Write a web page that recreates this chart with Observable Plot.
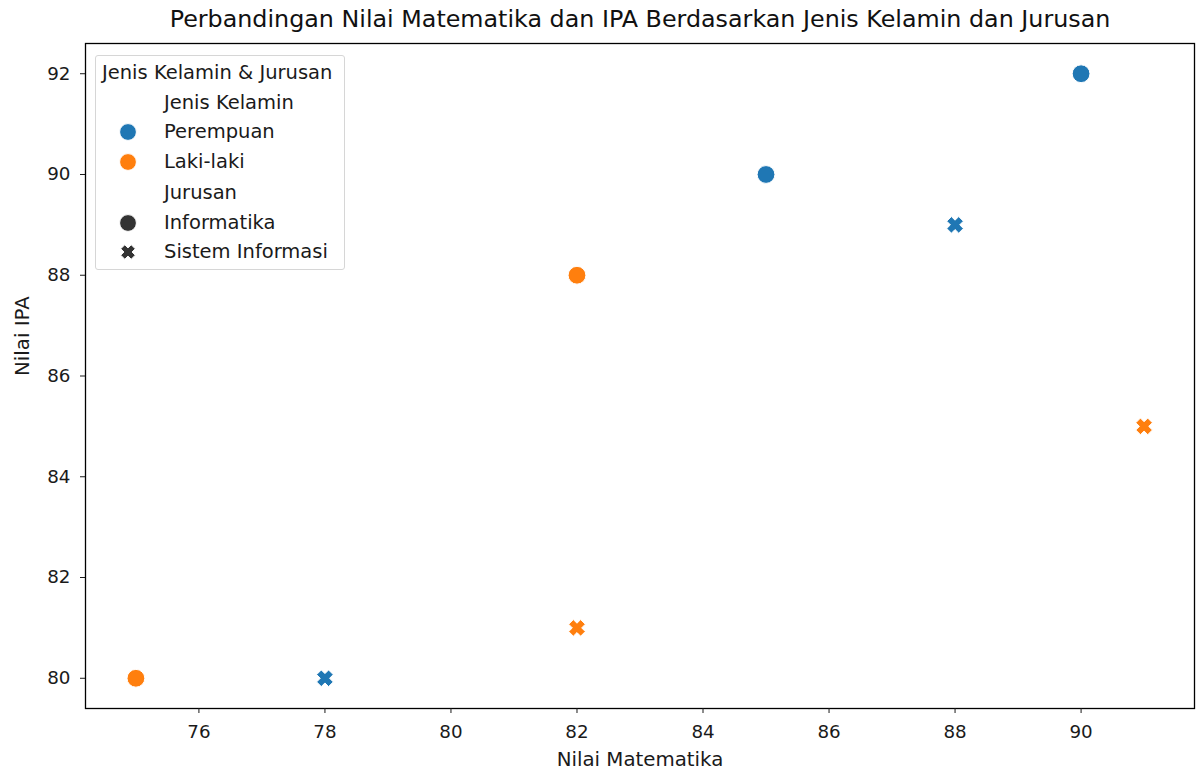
<!DOCTYPE html>
<html>
<head>
<meta charset="utf-8">
<script src="https://cdn.jsdelivr.net/npm/d3@7"></script>
<script src="https://cdn.jsdelivr.net/npm/@observablehq/plot@0.6"></script>
<style>
  body { margin: 0; background: #fff; }
  #wrap { position: relative; width: 1197px; height: 774px; font-family: "DejaVu Sans", sans-serif; }
  #legend { position: absolute; left: 95px; top: 55px; width: 250px; height: 215px; box-sizing: border-box;
    border: 1px solid #d6d6d6; border-radius: 3px; background: rgba(255,255,255,0.8); color: #1a1a1a; font-size: 19.5px; }
  #legend .row { position: absolute; left: 0; height: 24px; line-height: 24px; white-space: nowrap; }
</style>
</head>
<body>
<div id="wrap"></div>
<script>
const title = "Perbandingan Nilai Matematika dan IPA Berdasarkan Jenis Kelamin dan Jurusan";
const xLabel = "Nilai Matematika";
const yLabel = "Nilai IPA";
const nilaiMatematika = [85, 90, 88, 78, 82, 75, 82, 91];
const nilaiIPA =        [90, 92, 89, 80, 88, 80, 81, 85];
const jenisKelamin = ["Perempuan","Perempuan","Perempuan","Perempuan","Laki-laki","Laki-laki","Laki-laki","Laki-laki"];
const jurusan = ["Informatika","Informatika","Sistem Informasi","Sistem Informasi","Informatika","Informatika","Sistem Informasi","Sistem Informasi"];
const genderCategories = ["Perempuan", "Laki-laki"];
const genderColors = ["#1f77b4", "#ff7f0e"];
const majorCategories = ["Informatika", "Sistem Informasi"];
const xTicks = [76, 78, 80, 82, 84, 86, 88, 90];
const yTicks = [80, 82, 84, 86, 88, 90, 92];

const data = nilaiMatematika.map((x, i) => ({x, y: nilaiIPA[i], g: jenisKelamin[i], j: jurusan[i]}));

// filled "X" marker like matplotlib's 'X'
const filledX = {
  draw(context, size) {
    const r = Math.sqrt(size / Math.PI);
    const L = 0.95 * r, t = 0.37 * r;
    const pts = [[t,L],[t,t],[L,t],[L,-t],[t,-t],[t,-L],[-t,-L],[-t,-t],[-L,-t],[-L,t],[-t,t],[-t,L]];
    const c = Math.SQRT1_2;
    pts.forEach(([px, py], k) => {
      const rx = (px - py) * c, ry = (px + py) * c;
      if (k === 0) context.moveTo(rx, ry); else context.lineTo(rx, ry);
    });
    context.closePath();
  }
};

const chart = Plot.plot({
  width: 1197,
  height: 774,
  marginTop: 43,
  marginLeft: 85,
  marginRight: 3,
  marginBottom: 66,
  style: {fontFamily: "DejaVu Sans, sans-serif", fontSize: "18px", color: "#1a1a1a", background: "white"},
  x: {domain: [74.2, 91.8], ticks: xTicks, tickFormat: d => String(d)},
  y: {domain: [79.4, 92.6], ticks: yTicks, tickFormat: d => String(d)},
  color: {domain: genderCategories, range: genderColors},
  symbol: {domain: majorCategories, range: ["circle", filledX]},
  marks: [
    Plot.frame({stroke: "#000", strokeWidth: 1.3}),
    Plot.axisX({ticks: xTicks, tickSize: 5, tickPadding: 11, label: null, fontSize: 18.3}),
    Plot.axisY({ticks: yTicks, tickSize: 5, tickPadding: 10, label: null, fontSize: 18.3}),
    Plot.dot(data, {x: "x", y: "y", fill: "g", symbol: "j", r: 8.9, stroke: "white", strokeWidth: 1}),
    Plot.text([title], {frameAnchor: "top", dy: -33, fontSize: 23.8, fill: "#111"}),
    Plot.text([xLabel], {frameAnchor: "bottom", dy: 57, fontSize: 19.8, fill: "#1a1a1a"}),
    Plot.text([yLabel], {frameAnchor: "left", dx: -63, rotate: -90, fontSize: 19.8, fill: "#1a1a1a"})
  ]
});

const wrap = document.getElementById("wrap");
wrap.appendChild(chart);

// legend
const legend = document.createElement("div");
legend.id = "legend";
const rows = [
  {text: "Jenis Kelamin & Jurusan", top: 5, left: 6},
  {text: "Jenis Kelamin", top: 35, left: 68},
  ...genderCategories.map((g, i) => ({text: g, top: 64 + i * 30, left: 68, marker: "circle", color: genderColors[i]})),
  {text: "Jurusan", top: 125, left: 68},
  ...majorCategories.map((m, i) => ({text: m, top: 155 + i * 29, left: 68, marker: i === 0 ? "circle" : "x", color: "#333333"}))
];
for (const r of rows) {
  const d = document.createElement("div");
  d.className = "row";
  d.style.top = r.top + "px";
  d.style.left = r.left + "px";
  d.textContent = r.text;
  legend.appendChild(d);
  if (r.marker) {
    const ns = "http://www.w3.org/2000/svg";
    const s = document.createElementNS(ns, "svg");
    s.setAttribute("width", 24); s.setAttribute("height", 24);
    s.style.position = "absolute"; s.style.left = "20px"; s.style.top = r.top + "px";
    const p = document.createElementNS(ns, "path");
    const path = d3.path();
    const rr = 8.4;
    if (r.marker === "circle") { path.arc(12, 12, rr, 0, 2 * Math.PI); }
    else {
      const L = 0.95 * 7.8, t = 0.37 * 7.8, c = Math.SQRT1_2;
      const pts = [[t,L],[t,t],[L,t],[L,-t],[t,-t],[t,-L],[-t,-L],[-t,-t],[-L,-t],[-L,t],[-t,t],[-t,L]];
      pts.forEach(([px, py], k) => { const rx = 12 + (px - py) * c, ry = 12 + (px + py) * c; if (k === 0) path.moveTo(rx, ry); else path.lineTo(rx, ry); });
      path.closePath();
    }
    p.setAttribute("d", path.toString());
    p.setAttribute("fill", r.color);
    p.setAttribute("stroke", "white");
    p.setAttribute("stroke-width", 1);
    s.appendChild(p);
    legend.appendChild(s);
  }
}
wrap.appendChild(legend);
</script>
</body>
</html>
